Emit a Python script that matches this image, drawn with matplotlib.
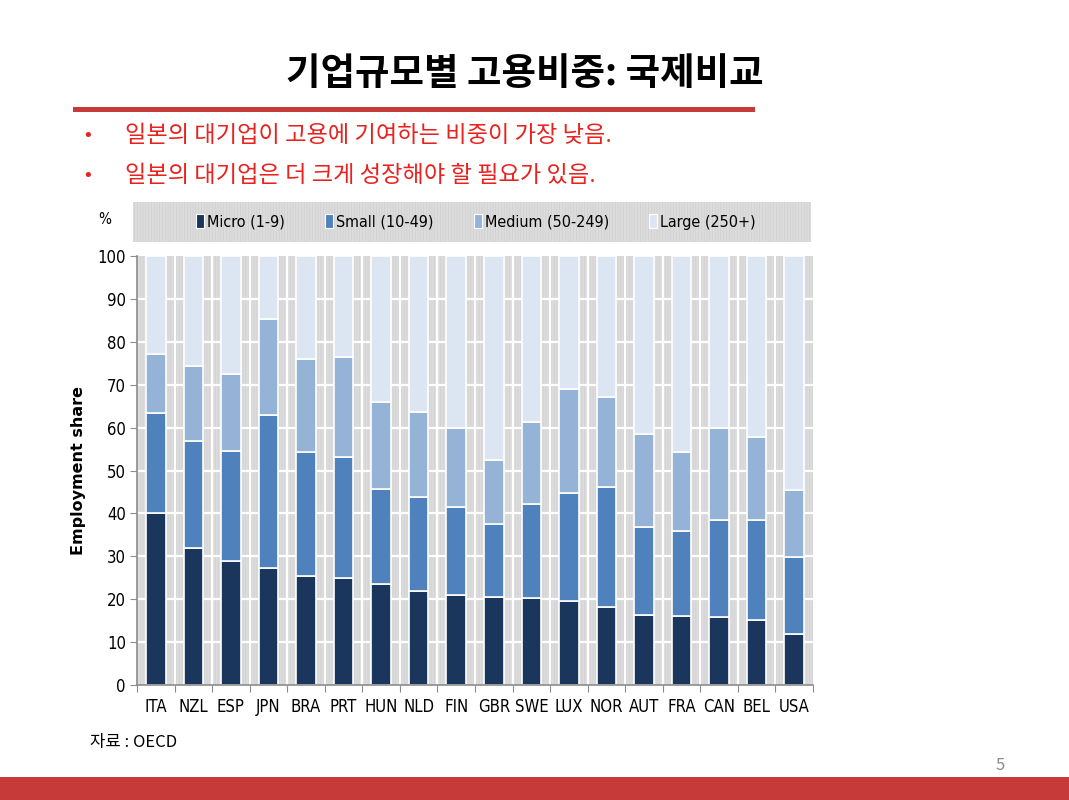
import numpy as np
import matplotlib
matplotlib.use("Agg")
import matplotlib.pyplot as plt
from matplotlib.patches import Rectangle, Patch
from matplotlib.font_manager import FontProperties

plt.rcParams['font.family'] = ['Noto Sans CJK KR', 'DejaVu Sans']
plt.rcParams['hatch.linewidth'] = 0.4

countries = ['ITA', 'NZL', 'ESP', 'JPN', 'BRA', 'PRT', 'HUN', 'NLD', 'FIN',
             'GBR', 'SWE', 'LUX', 'NOR', 'AUT', 'FRA', 'CAN', 'BEL', 'USA']
# cumulative tops
micro_top = [40.0, 32.0, 28.8, 27.3, 25.3, 24.9, 23.5, 22.0, 21.0,
             20.6, 20.3, 19.5, 18.1, 16.3, 16.1, 15.9, 15.1, 11.8]
small_top = [63.4, 56.9, 54.5, 62.9, 54.2, 53.1, 45.8, 43.8, 41.5,
             37.5, 42.3, 44.7, 46.1, 36.9, 35.9, 38.4, 38.4, 29.9]
medium_top = [77.2, 74.4, 72.5, 85.4, 75.9, 76.4, 66.0, 63.7, 59.8,
              52.5, 61.3, 68.9, 67.2, 58.5, 54.2, 60.0, 57.9, 45.4]

micro = np.array(micro_top)
small = np.array(small_top) - micro
medium = np.array(medium_top) - np.array(small_top)
large = 100 - np.array(medium_top)

series = ['Micro (1-9)', 'Small (10-49)', 'Medium (50-249)', 'Large (250+)']
colors = ['#1b365d', '#4f81bd', '#95b3d7', '#dce6f2']

red = '#c63a3a'


def narrow(size):
    return FontProperties(family='DejaVu Sans', stretch='condensed', size=size)


W, H = 1069, 800
fig = plt.figure(figsize=(W / 100, H / 100), dpi=100)

# title and header
fig.text(525 / W, 1 - 73 / H, '기업규모별 고용비중: 국제비교', ha='center', va='center',
         fontsize=27, fontweight='bold', color='black')
fig.add_artist(Rectangle((73 / W, 1 - 112 / H), (755 - 73) / W, 5 / H,
                         transform=fig.transFigure, color=red, lw=0))
bullets = ['일본의 대기업이 고용에 기여하는 비중이 가장 낮음.',
           '일본의 대기업은 더 크게 성장해야 할 필요가 있음.']
for i, b in enumerate(bullets):
    y = 1 - (136 + 40 * i) / H
    fig.text(88 / W, y, '•', ha='center', va='center', fontsize=13,
             family=['DejaVu Sans'], color='#e8221f')
    fig.text(125 / W, y, b, ha='left', va='center', fontsize=16.7, color='#e8221f')

# legend box
fig.add_artist(Rectangle((133 / W, 1 - 242 / H), (811 - 133) / W, 40 / H,
                         transform=fig.transFigure, facecolor='#dcdcdc',
                         edgecolor='#cccccc', hatch='||||||', lw=0))
fig.text(105 / W, 1 - 219 / H, '%', ha='center', va='center',
         fontproperties=narrow(11))
handles = [Patch(facecolor=c, edgecolor='white', lw=0.8) for c in colors]
leg = fig.legend(handles, series, loc='center', ncol=4,
                 bbox_to_anchor=(476 / W, 1 - 222 / H), frameon=False,
                 handlelength=0.5, handleheight=0.9, handletextpad=0.2,
                 columnspacing=2.5, prop=narrow(11.5))

# main axes
ax = fig.add_axes([137 / W, 1 - 685 / H, (813 - 137) / W, (685 - 256) / H])
ax.set_facecolor('#dcdcdc')
ax.add_patch(Rectangle((0, 0), 1, 1, transform=ax.transAxes, facecolor='none',
                       edgecolor='#cccccc', hatch='||||||', lw=0, zorder=0))
x = np.arange(len(countries))
n = len(countries)
ax.set_xlim(-0.5, n - 0.5)
ax.set_ylim(0, 100)

for yv in range(10, 100, 10):
    ax.axhline(yv, color='white', lw=1.6, zorder=1)
for xv in np.arange(-0.5, n, 1.0)[1:-1]:
    ax.axvline(xv, color='white', lw=1.6, zorder=1)

bottom = np.zeros(n)
for vals, c, lab in zip([micro, small, medium, large], colors, series):
    ax.bar(x, vals, bottom=bottom, width=0.52, color=c, edgecolor='white',
           linewidth=1.2, zorder=2, label=lab)
    bottom += vals

for s in ['top', 'right']:
    ax.spines[s].set_visible(False)
for s in ['left', 'bottom']:
    ax.spines[s].set_color('#8c8c8c')
    ax.spines[s].set_linewidth(1.2)

ax.set_yticks(range(0, 101, 10))
ax.set_yticklabels([str(v) for v in range(0, 101, 10)], fontproperties=narrow(12))
ax.tick_params(axis='y', length=5, color='#8c8c8c', pad=3)
ax.set_xticks(np.arange(-0.5, n, 1.0))
ax.set_xticklabels([])
ax.tick_params(axis='x', which='major', length=5, color='#8c8c8c')
ax.set_xticks(x, minor=True)
ax.set_xticklabels(countries, minor=True, fontproperties=narrow(12))
ax.tick_params(axis='x', which='minor', length=0, pad=9)
ax.set_ylabel('Employment share', fontsize=11.5, fontweight='bold',
              family=['DejaVu Sans'], labelpad=8)

# footer
fig.text(90 / W, 1 - 743 / H, '자료 : OECD', ha='left', va='center', fontsize=12)
fig.text(1000 / W, 1 - 765 / H, '5', ha='center', va='center', fontsize=12,
         color='#8c8c8c')
fig.add_artist(Rectangle((0, 0), 1, 23 / H, transform=fig.transFigure,
                         color=red, lw=0))

fig.savefig('out.png', dpi=100)
